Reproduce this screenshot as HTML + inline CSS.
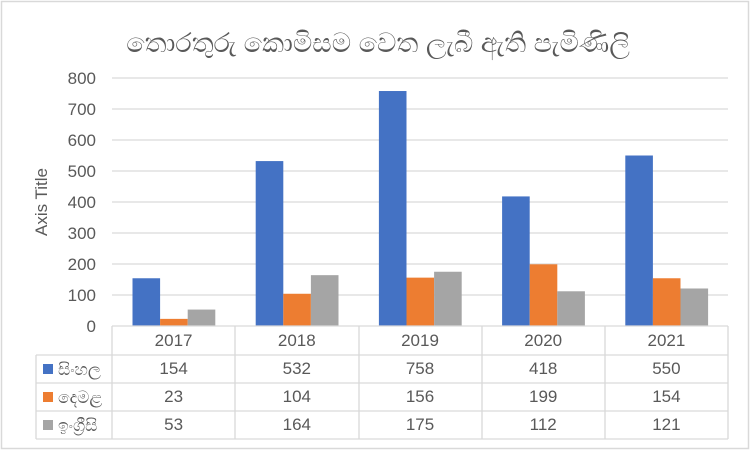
<!DOCTYPE html>
<html><head><meta charset="utf-8"><style>
body{margin:0;background:#fff}
svg{display:block}
text{font-family:"Liberation Sans","Noto Sans CJK SC",sans-serif;fill:#595959}
</style></head><body>
<svg width="752" height="452" viewBox="0 0 752 452">
<rect x="1.5" y="1.5" width="747" height="447" fill="#fff" stroke="#d9d9d9" stroke-width="1.5"/>
<text x="378" y="52" font-size="27" text-anchor="middle">තොරතුරු කොමිසම වෙත ලැබී ඇති පැමිණිලි</text>
<g stroke="#d9d9d9" stroke-width="1.3">
<line x1="112" y1="78" x2="728" y2="78"/><line x1="112" y1="109" x2="728" y2="109"/>
<line x1="112" y1="140" x2="728" y2="140"/><line x1="112" y1="171" x2="728" y2="171"/>
<line x1="112" y1="202" x2="728" y2="202"/><line x1="112" y1="233" x2="728" y2="233"/>
<line x1="112" y1="264" x2="728" y2="264"/><line x1="112" y1="295" x2="728" y2="295"/>
</g>
<g font-size="17" text-anchor="end">
<text x="96" y="84">800</text><text x="96" y="115">700</text><text x="96" y="146">600</text>
<text x="96" y="177">500</text><text x="96" y="208">400</text><text x="96" y="239">300</text>
<text x="96" y="270">200</text><text x="96" y="301">100</text><text x="96" y="332">0</text>
</g>
<text transform="translate(47,202) rotate(-90)" font-size="17" text-anchor="middle">Axis Title</text>
<g id="bars"></g>
<g stroke="#d9d9d9" stroke-width="1.3" fill="none">
<line x1="112" y1="326" x2="728" y2="326"/>
<line x1="36" y1="355" x2="728" y2="355"/>
<line x1="36" y1="383" x2="728" y2="383"/>
<line x1="36" y1="411" x2="728" y2="411"/>
<line x1="36" y1="439" x2="728" y2="439"/>
<line x1="36" y1="355" x2="36" y2="439"/>
<line x1="112" y1="326" x2="112" y2="439"/>
<line x1="235" y1="326" x2="235" y2="439"/>
<line x1="359" y1="326" x2="359" y2="439"/>
<line x1="482" y1="326" x2="482" y2="439"/>
<line x1="605" y1="326" x2="605" y2="439"/>
<line x1="728" y1="326" x2="728" y2="439"/>
</g>
<rect x="43" y="364" width="10" height="10" fill="#4472C4"/>
<rect x="43" y="392" width="10" height="10" fill="#ED7D31"/>
<rect x="43" y="420" width="10" height="10" fill="#A5A5A5"/>
<g font-size="17">
<text x="58" y="375">සිංහල</text><text x="58" y="403">දෙමළ</text><text x="58" y="431">ඉංග්‍රීසි</text>
</g>
<g font-size="17" text-anchor="middle" id="tbl"></g>
<script>
var d=[[154,23,53],[532,104,164],[758,156,175],[418,199,112],[550,154,121]];
var c=["#4472C4","#ED7D31","#A5A5A5"],yrs=[2017,2018,2019,2020,2021];
var b=document.getElementById("bars"),t=document.getElementById("tbl"),ns="http://www.w3.org/2000/svg";
d.forEach(function(r,i){var x0=112+i*123.2+20.5;
r.forEach(function(v,j){var e=document.createElementNS(ns,"rect");var h=v*0.31;
e.setAttribute("x",x0+j*27.6);e.setAttribute("y",326-h);e.setAttribute("width",27.6);e.setAttribute("height",h);e.setAttribute("fill",c[j]);b.appendChild(e);});
var cx=112+i*123.2+61.6;
[yrs[i]].concat(r).forEach(function(v,k){var e=document.createElementNS(ns,"text");e.setAttribute("x",cx);e.setAttribute("y",346+k*28);e.textContent=v;t.appendChild(e);});
});
</script>
</svg>
</body></html>
